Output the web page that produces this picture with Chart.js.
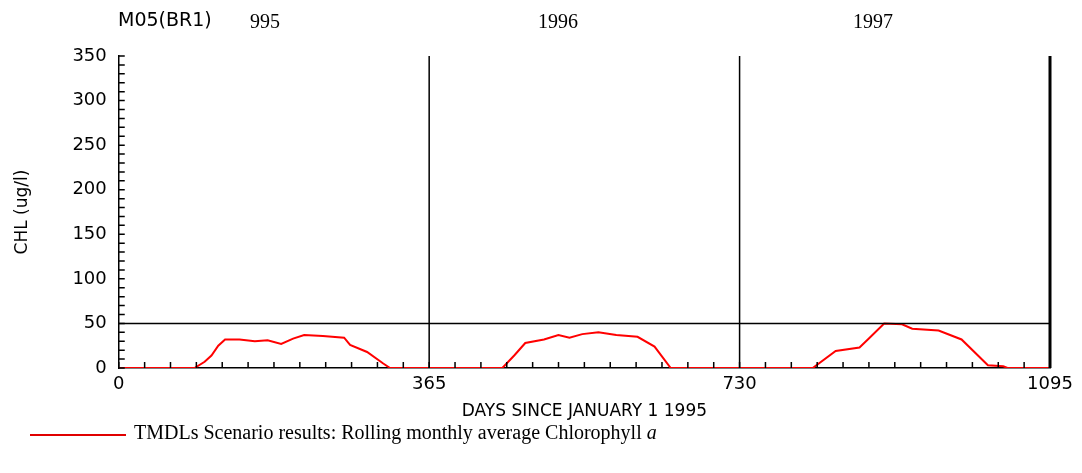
<!DOCTYPE html>
<html><head><meta charset="utf-8">
<script src="https://cdn.jsdelivr.net/npm/chart.js@4"></script>
<style>
body{margin:0;background:#fff;width:1082px;height:473px;overflow:hidden;position:relative;font-family:"Liberation Serif",serif}
#wrap{position:absolute;left:0;top:0;width:1082px;height:422px}
.t{position:absolute;font-size:20px;color:#000}
</style></head><body>
<div id="wrap"><canvas id="c"></canvas></div>
<div class="t" style="left:118px;top:8px;font-family:'DejaVu Sans',sans-serif;font-size:19px">M05(BR1)</div>
<div class="t" style="left:250px;top:10px;background:transparent">995</div>
<div class="t" style="left:538px;top:10px">1996</div>
<div class="t" style="left:853px;top:10px">1997</div>
<div style="position:absolute;left:30px;top:434px;width:96px;height:2px;background:#e00000"></div>
<div class="t" style="left:134px;top:421px">TMDLs Scenario results: Rolling monthly average Chlorophyll <i>a</i></div>
<script>
const days = [0, 89, 101, 109, 117, 125, 142, 160, 175, 191, 205, 218, 240, 265, 272, 292, 311, 319,
  451, 465, 478, 500, 517, 530, 545, 564, 585, 610, 630, 649,
  816, 843, 871, 882, 900, 921, 933, 964, 991, 1022, 1040, 1045, 1095];
const chl = [0, 0, 7, 14, 25, 32, 32, 30, 31, 27, 33, 37, 36, 34, 26, 18, 5, 0,
  0, 14, 28, 32, 37, 34, 38, 40, 37, 35, 24, 0,
  0, 19, 23, 33, 50, 49, 44, 42, 32, 3, 2, 0, 0];
const xLabels = [0, 365, 730, 1095];
const yLabels = [0, 50, 100, 150, 200, 250, 300, 350];

const minorTicks = {
  id: 'minorTicks',
  afterDraw(chart) {
    const ctx = chart.ctx, x = chart.scales.x, y = chart.scales.y;
    ctx.save();
    ctx.strokeStyle = '#000'; ctx.lineWidth = 1.5;
    ctx.beginPath();
    for (let d = 0; d <= 1095; d += 365 / 12) {
      const px = x.getPixelForValue(d);
      ctx.moveTo(px, y.bottom); ctx.lineTo(px, y.bottom - 6);
    }
    for (let v = 0; v <= 350; v += 10) {
      const py = y.getPixelForValue(v);
      ctx.moveTo(x.left, py); ctx.lineTo(x.left + 6, py);
    }
    ctx.stroke();
    ctx.beginPath();
    [365, 730].forEach(d => { const px = x.getPixelForValue(d); ctx.moveTo(px, y.top); ctx.lineTo(px, y.bottom); });
    const p50 = y.getPixelForValue(50);
    ctx.moveTo(x.left, p50); ctx.lineTo(x.right, p50);
    ctx.stroke();
    ctx.lineWidth = 3;
    ctx.beginPath(); ctx.moveTo(x.right, y.top); ctx.lineTo(x.right, y.bottom); ctx.stroke();
    ctx.restore();
  }
};

new Chart(document.getElementById('c'), {
  type: 'line',
  data: { datasets: [{ data: days.map((d, i) => ({ x: d, y: chl[i] })), borderColor: '#ff0000', borderWidth: 2, pointRadius: 0, tension: 0 }] },
  options: {
    responsive: true, maintainAspectRatio: false, animation: false,
    layout: { padding: { top: 56, right: 32, left: 12, bottom: 0 } },
    plugins: { legend: { display: false }, tooltip: { enabled: false } },
    scales: {
      x: {
        type: 'linear', min: 0, max: 1095,
        afterBuildTicks: s => { s.ticks = xLabels.map(v => ({ value: v })); },
        grid: { drawOnChartArea: false, drawTicks: false },
        border: { color: '#000', width: 1.5 },
        ticks: { color: '#000', font: { family: 'DejaVu Sans', size: 18 }, maxRotation: 0, padding: 6, callback: v => String(v) },
        title: { display: true, text: 'DAYS SINCE JANUARY 1 1995', color: '#000', font: { family: 'DejaVu Sans', size: 17 }, padding: 0 }
      },
      y: {
        min: 0, max: 350,
        afterBuildTicks: s => { s.ticks = yLabels.map(v => ({ value: v })); },
        grid: { drawOnChartArea: false, drawTicks: false },
        border: { color: '#000', width: 1.5 },
        ticks: { color: '#000', font: { family: 'DejaVu Sans', size: 18 }, padding: 12 },
        title: { display: true, text: 'CHL (ug/l)', color: '#000', font: { family: 'DejaVu Sans', size: 17 }, padding: { top: 0, bottom: 28 } }
      }
    }
  },
  plugins: [minorTicks]
});
</script>
</body></html>
